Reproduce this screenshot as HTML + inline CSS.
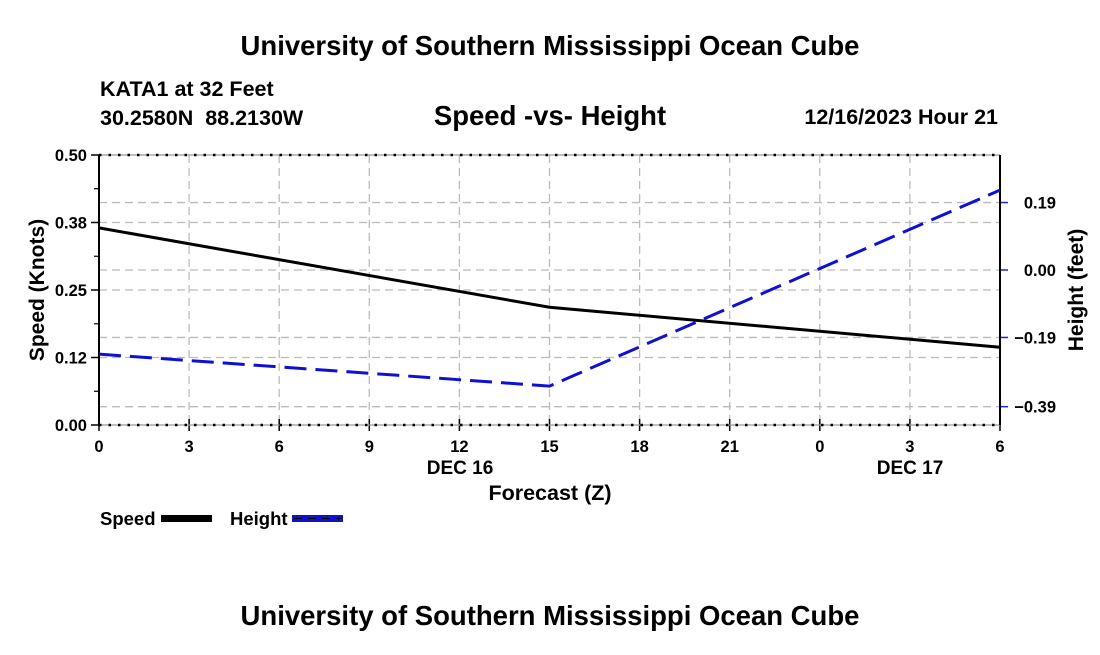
<!DOCTYPE html>
<html><head><meta charset="utf-8"><style>
body{margin:0;background:#fff;width:1100px;height:650px;overflow:hidden}
svg{font-family:"Liberation Sans",Arial,sans-serif;font-weight:bold}
</style></head><body>
<svg id="chart" width="1100" height="650" viewBox="0 0 1100 650">
<text x="550" y="55" text-anchor="middle" font-size="27.5">University of Southern Mississippi Ocean Cube</text>
<text x="100" y="96" font-size="21.5">KATA1 at 32 Feet</text>
<text x="100" y="125" font-size="21.5" style="white-space:pre" xml:space="preserve">30.2580N  88.2130W</text>
<text x="550" y="125" text-anchor="middle" font-size="27.5">Speed -vs- Height</text>
<text x="998" y="124" text-anchor="end" font-size="21.5">12/16/2023 Hour 21</text>
<g id="grid"></g>
<g id="axes"></g>
<g id="series"></g>
<text transform="translate(44,290) rotate(-90)" text-anchor="middle" font-size="21">Speed (Knots)</text>
<text transform="translate(1083,290) rotate(-90)" text-anchor="middle" font-size="21">Height (feet)</text>
<text x="550" y="500" text-anchor="middle" font-size="21.5">Forecast (Z)</text>
<text x="460" y="474" text-anchor="middle" font-size="19">DEC 16</text>
<text x="910" y="474" text-anchor="middle" font-size="19">DEC 17</text>
<g>
<text x="100" y="525" font-size="18.5">Speed</text>
<rect x="161" y="515" width="51" height="7" fill="#000"/>
</g>
<g>
<text x="230" y="525" font-size="18.5">Height</text>
<rect x="292" y="515" width="51" height="7" fill="#1010d0"/>
<line x1="294" y1="518.5" x2="342" y2="518.5" stroke="#000" stroke-width="1" stroke-dasharray="8,6"/>
</g>
<text x="550" y="625" text-anchor="middle" font-size="27.5">University of Southern Mississippi Ocean Cube</text>
</svg>
<script>
const hours=[0,15,30];
const speedValues=[0.365,0.218,0.144];
const heightValues=[-0.237,-0.327,0.225];
const xTickLabels=["0","3","6","9","12","15","18","21","0","3","6"];
const yTicks=[0,0.125,0.25,0.375,0.5];
const yTickLabels=["0.00","0.12","0.25","0.38","0.50"];
const y2Ticks=[0.19,0,-0.19,-0.385];
const y2TickLabels=["0.19","0.00","\u22120.19","\u22120.39"];

const L=99,R=1000,T=155,B=425;
function xs(h){return L+(R-L)*h/30;}
function ys(v){return B-(B-T)*v/0.5;}
function y2s(v){return 270-v*355;}
const NS="http://www.w3.org/2000/svg";
function mk(p,t,a){const e=document.createElementNS(NS,t);for(const k in a)e.setAttribute(k,a[k]);p.appendChild(e);return e;}
const grid=document.getElementById('grid'),axes=document.getElementById('axes'),series=document.getElementById('series');
for(let i=0;i<=10;i++){const x=xs(i*3);
 if(i>0&&i<10){const g=mk(grid,'line',{x1:x,y1:T,x2:x,y2:B,stroke:'#bbb','stroke-width':1.3,'stroke-dasharray':'8,5'});
 }
 const tk=mk(axes,'line',{x1:x,y1:B-6,x2:x,y2:B+6,stroke:'#000','stroke-width':1.5});
 
 const tl=mk(axes,'text',{x:x,y:B+27,'text-anchor':'middle','font-size':16.5});tl.textContent=xTickLabels[i];
 
}
yTicks.forEach((v,i)=>{const y=ys(v);
 if(i>0&&i<4){const g=mk(grid,'line',{x1:L,y1:y,x2:R,y2:y,stroke:'#bbb','stroke-width':1.3,'stroke-dasharray':'8,5'});
 }
 const tk=mk(axes,'line',{x1:L-8,y1:y,x2:L,y2:y,stroke:'#000','stroke-width':1.5});
 
 const tl=mk(axes,'text',{x:L-12,y:y+6,'text-anchor':'end','font-size':16.5});tl.textContent=yTickLabels[i];
 
 if(i<4){const m=mk(axes,'line',{x1:L-5,y1:ys(v+0.0625),x2:L,y2:ys(v+0.0625),stroke:'#000','stroke-width':1.2});
 }
});
y2Ticks.forEach((v,i)=>{const y=y2s(v);
 const g=mk(grid,'line',{x1:L,y1:y,x2:R,y2:y,stroke:'#bbb','stroke-width':1.3,'stroke-dasharray':'8,5'});
 
 const tk=mk(axes,'line',{x1:R,y1:y,x2:R+8,y2:y,stroke:'#2222cc','stroke-width':1.5});
 
 const tl=mk(axes,'text',{x:1056,y:y+6,'text-anchor':'end','font-size':16.5});tl.textContent=y2TickLabels[i];
 
});
[T,B].forEach(y=>{const g=mk(axes,'line',{x1:L,y1:y,x2:R,y2:y,stroke:'#999','stroke-width':1.3});
 
 const d=mk(axes,'line',{x1:L,y1:y,x2:R,y2:y,stroke:'#000','stroke-width':2.5,'stroke-dasharray':'2.5,7'});
 });
[L,R].forEach(x=>{const g=mk(axes,'line',{x1:x,y1:T,x2:x,y2:B,stroke:'#000','stroke-width':2});
 });
const sp=mk(series,'polyline',{points:hours.map((h,i)=>xs(h)+','+ys(speedValues[i])).join(' '),fill:'none',stroke:'#000','stroke-width':3});

const ht=mk(series,'polyline',{points:hours.map((h,i)=>xs(h)+','+y2s(heightValues[i])).join(' '),fill:'none',stroke:'#1010d0','stroke-width':3,'stroke-dasharray':'22,9'});

</script>
</body></html>
